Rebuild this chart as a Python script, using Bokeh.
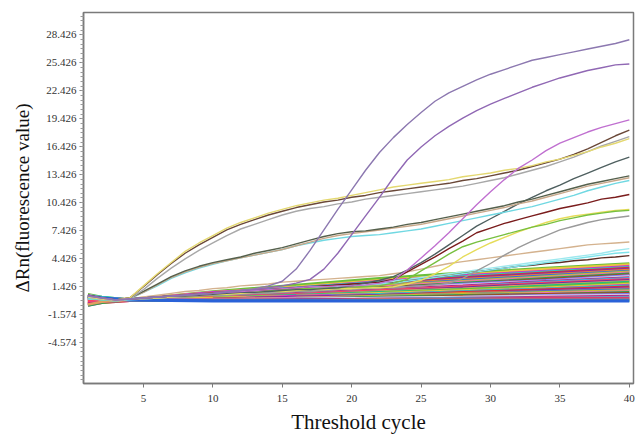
from bokeh.plotting import figure
from bokeh.models import FixedTicker, PrintfTickFormatter, ColumnDataSource
from bokeh.embed import file_html
from bokeh.resources import INLINE

CYCLES = list(range(1, 41))

PURPLE_A = [0.4, 0.2, 0.0, 0.1, 0.2, 0.3, 0.4, 0.5, 0.6, 0.7, 0.9, 1.0, 1.2, 1.5,
            2.0, 3.3, 5.3, 7.5, 9.7, 11.8, 13.9, 15.8, 17.4, 18.8, 20.1, 21.3, 22.2,
            22.9, 23.6, 24.2, 24.7, 25.2, 25.7, 26.0, 26.3, 26.6, 26.9, 27.2, 27.5, 27.9]
PURPLE_B = [0.5, 0.2, 0.0, 0.1, 0.2, 0.3, 0.4, 0.5, 0.6, 0.7, 0.8, 1.0, 1.1, 1.3, 1.5, 1.8,
            2.2, 3.3, 5.0, 7.0, 9.0, 11.0, 13.1, 15.0, 16.4, 17.6, 18.6, 19.5, 20.3, 21.0,
            21.6, 22.2, 22.8, 23.3, 23.8, 24.2, 24.6, 24.9, 25.2, 25.3]
MAGENTA = [0.4, 0.2, 0.0, 0.1, 0.2, 0.3, 0.4, 0.5, 0.6, 0.7, 0.8, 0.9, 1.0, 1.1, 1.2, 1.3,
           1.4, 1.4, 1.5, 1.5, 1.6, 1.8, 2.1, 3.2, 4.5, 5.8, 7.2, 8.7, 10.2, 11.6, 12.9,
           14.1, 15.0, 16.0, 16.8, 17.4, 18.0, 18.5, 18.9, 19.3]
YELLOW = [0.3, 0.1, 0.0, 0.2, 1.5, 2.8, 4.0, 5.2, 6.1, 6.9, 7.7, 8.3, 8.8, 9.3, 9.7, 10.1,
          10.4, 10.7, 10.9, 11.2, 11.5, 11.8, 12.1, 12.3, 12.5, 12.7, 12.9, 13.2, 13.4, 13.6,
          13.9, 14.1, 14.4, 14.8, 15.1, 15.5, 15.9, 16.4, 16.8, 17.3]
BROWN = [0.5, 0.2, 0.0, 0.2, 1.4, 2.7, 3.9, 5.0, 5.9, 6.7, 7.5, 8.1, 8.6, 9.1, 9.5, 9.9,
         10.2, 10.5, 10.7, 11.0, 11.2, 11.5, 11.7, 11.9, 12.1, 12.3, 12.5, 12.8, 13.0, 13.3,
         13.6, 13.9, 14.3, 14.7, 15.1, 15.6, 16.2, 16.9, 17.6, 18.2]
GRAY = [0.3, 0.1, -0.1, 0.1, 1.1, 2.3, 3.4, 4.4, 5.3, 6.1, 6.9, 7.6, 8.1, 8.6, 9.1, 9.5,
        9.8, 10.0, 10.3, 10.5, 10.8, 11.0, 11.2, 11.4, 11.6, 11.8, 12.0, 12.2, 12.5, 12.8,
        13.1, 13.5, 13.9, 14.3, 14.8, 15.3, 15.9, 16.5, 17.0, 17.5]
MID_DARK = [0.4, 0.1, 0.0, 0.2, 0.9, 1.7, 2.5, 3.1, 3.6, 4.0, 4.3, 4.6, 5.0, 5.3, 5.6, 6.0,
            6.4, 6.8, 7.1, 7.3, 7.4, 7.6, 7.8, 8.1, 8.3, 8.6, 8.9, 9.2, 9.5, 9.8,
            10.1, 10.5, 10.8, 11.2, 11.6, 12.0, 12.4, 12.7, 13.0, 13.3]
MID_TAN = [0.3, 0.1, 0.0, 0.2, 0.8, 1.6, 2.4, 3.0, 3.5, 3.9, 4.2, 4.5, 4.8, 5.1, 5.4, 5.8,
           6.2, 6.6, 6.9, 7.1, 7.3, 7.5, 7.7, 7.9, 8.1, 8.4, 8.7, 9.0, 9.3, 9.6,
           9.9, 10.3, 10.6, 11.0, 11.4, 11.8, 12.2, 12.5, 12.8, 13.1]
MID_CYAN = [0.2, 0.0, -0.1, 0.1, 0.8, 1.5, 2.3, 2.9, 3.4, 3.8, 4.2, 4.5, 4.8, 5.1, 5.4, 5.8,
            6.1, 6.4, 6.6, 6.8, 6.9, 7.0, 7.2, 7.4, 7.6, 7.9, 8.2, 8.5, 8.8, 9.1,
            9.4, 9.7, 10.0, 10.4, 10.8, 11.2, 11.7, 12.1, 12.5, 12.8]
LATE_DARK = [0.3, 0.1, 0.0, 0.1, 0.2, 0.3, 0.4, 0.4, 0.5, 0.6, 0.7, 0.8, 0.8, 0.9, 1.0, 1.1,
             1.1, 1.2, 1.3, 1.5, 1.8, 2.1, 2.5, 3.2, 4.0, 4.9, 5.9, 6.9, 7.9, 8.7,
             9.5, 10.3, 11.0, 11.7, 12.3, 13.0, 13.6, 14.2, 14.8, 15.3]
DARK_RED = [0.5, 0.2, 0.0, 0.1, 0.2, 0.3, 0.4, 0.5, 0.6, 0.7, 0.8, 0.9, 1.0, 1.1, 1.2, 1.3,
            1.4, 1.5, 1.6, 1.7, 1.8, 1.9, 2.2, 3.0, 3.8, 4.6, 5.5, 6.3, 7.2, 7.7,
            8.2, 8.6, 9.0, 9.4, 9.8, 10.1, 10.4, 10.8, 11.0, 11.3]
GREEN = [0.2, 0.0, -0.1, 0.1, 0.2, 0.3, 0.4, 0.5, 0.6, 0.7, 0.8, 0.9, 1.0, 1.0, 1.1, 1.2,
         1.2, 1.3, 1.3, 1.4, 1.4, 1.5, 1.8, 2.2, 3.1, 4.0, 4.9, 5.7, 6.2, 6.6,
         7.0, 7.4, 7.8, 8.1, 8.5, 8.8, 9.1, 9.3, 9.5, 9.6]
YELLOW_LATE = [0.3, 0.1, 0.0, 0.1, 0.2, 0.2, 0.3, 0.4, 0.5, 0.6, 0.6, 0.7, 0.8, 0.9, 0.9, 1.0,
               1.1, 1.1, 1.2, 1.2, 1.3, 1.3, 1.4, 1.7, 2.1, 2.8, 3.6, 4.6, 5.4, 6.1,
               6.7, 7.3, 7.8, 8.3, 8.7, 9.0, 9.2, 9.4, 9.6, 9.7]
GRAY_LATE = [0.4, 0.2, 0.0, 0.1, 0.1, 0.2, 0.3, 0.3, 0.4, 0.5, 0.5, 0.6, 0.7, 0.7, 0.8, 0.9,
             0.9, 1.0, 1.1, 1.1, 1.2, 1.3, 1.3, 1.4, 1.5, 1.6, 1.8, 2.3, 3.1, 3.9,
             4.8, 5.6, 6.3, 6.9, 7.5, 7.9, 8.3, 8.6, 8.8, 9.0]
TAN_SLOW = [0.4, 0.1, 0.0, 0.1, 0.3, 0.5, 0.7, 0.9, 1.0, 1.2, 1.3, 1.5, 1.6, 1.7, 1.9, 2.0,
            2.1, 2.2, 2.3, 2.4, 2.5, 2.6, 2.8, 3.0, 3.3, 3.6, 3.9, 4.1, 4.3, 4.5,
            4.7, 4.9, 5.1, 5.3, 5.5, 5.7, 5.9, 6.0, 6.1, 6.2]
CYAN_LATE1 = [0.2, 0.0, -0.1, 0.1, 0.2, 0.3, 0.4, 0.5, 0.5, 0.6, 0.7, 0.8, 0.9, 1.0, 1.1, 1.2,
              1.3, 1.4, 1.5, 1.6, 1.7, 1.8, 2.0, 2.2, 2.4, 2.6, 2.8, 3.0, 3.2, 3.4,
              3.6, 3.8, 4.0, 4.2, 4.4, 4.6, 4.8, 5.0, 5.3, 5.5]
CYAN_LATE2 = [0.1, 0.0, -0.1, 0.0, 0.1, 0.2, 0.3, 0.4, 0.5, 0.6, 0.7, 0.8, 0.8, 0.9, 1.0, 1.1,
              1.2, 1.3, 1.4, 1.5, 1.6, 1.7, 1.8, 2.0, 2.2, 2.4, 2.6, 2.8, 3.0, 3.2,
              3.4, 3.6, 3.8, 4.0, 4.2, 4.4, 4.6, 4.8, 5.0, 5.1]
BROWN_LATE = [0.3, 0.1, 0.0, 0.1, 0.2, 0.3, 0.4, 0.5, 0.5, 0.6, 0.7, 0.8, 0.9, 1.0, 1.1, 1.2,
              1.3, 1.4, 1.5, 1.6, 1.7, 1.8, 1.9, 2.0, 2.2, 2.4, 2.6, 2.8, 3.0, 3.2,
              3.4, 3.6, 3.7, 3.9, 4.0, 4.2, 4.3, 4.5, 4.6, 4.75]

BUNDLE_CYCLES = [1, 2, 4, 10, 16, 22, 28, 34, 40]
BUNDLE = [
    [0.6, 0.3, 0.0, 0.9, 1.6, 2.3, 2.9, 3.4, 3.9],
    [0.5, 0.2, 0.1, 0.8, 1.4, 2.1, 2.7, 3.3, 3.8],
    [0.4, 0.2, 0.0, 0.8, 1.3, 2.0, 2.6, 3.1, 3.6],
    [0.5, 0.3, 0.0, 0.7, 1.3, 1.9, 2.5, 3.0, 3.5],
    [0.3, 0.1, 0.0, 0.7, 1.2, 1.8, 2.4, 2.9, 3.4],
    [0.4, 0.2, -0.1, 0.6, 1.1, 1.7, 2.3, 2.8, 3.3],
    [0.2, 0.1, 0.0, 0.6, 1.1, 1.6, 2.2, 2.7, 3.2],
    [0.3, 0.1, 0.0, 0.5, 1.0, 1.5, 2.1, 2.6, 3.1],
    [0.1, 0.0, 0.0, 0.5, 1.0, 1.5, 2.0, 2.5, 3.0],
    [0.2, 0.1, -0.1, 0.5, 0.9, 1.4, 1.9, 2.4, 2.9],
    [0.0, 0.0, 0.0, 0.4, 0.9, 1.3, 1.8, 2.3, 2.8],
    [0.5, 0.2, 0.0, 0.4, 0.8, 1.3, 1.7, 2.2, 2.7],
    [-0.1, 0.0, 0.0, 0.4, 0.8, 1.2, 1.7, 2.1, 2.6],
    [0.4, 0.2, 0.0, 0.3, 0.7, 1.1, 1.6, 2.0, 2.5],
    [-0.2, -0.1, 0.0, 0.3, 0.7, 1.1, 1.5, 2.0, 2.4],
    [0.3, 0.1, -0.1, 0.3, 0.6, 1.0, 1.4, 1.9, 2.3],
    [-0.3, -0.1, 0.0, 0.3, 0.6, 1.0, 1.4, 1.8, 2.2],
    [0.2, 0.0, 0.0, 0.2, 0.5, 0.9, 1.3, 1.7, 2.1],
    [-0.4, -0.2, 0.0, 0.2, 0.5, 0.9, 1.2, 1.6, 2.0],
    [0.1, 0.0, 0.0, 0.2, 0.5, 0.8, 1.1, 1.5, 1.9],
    [-0.5, -0.2, 0.0, 0.2, 0.4, 0.7, 1.1, 1.4, 1.8],
    [0.0, 0.0, 0.0, 0.2, 0.4, 0.7, 1.0, 1.3, 1.7],
    [-0.6, -0.3, -0.1, 0.1, 0.4, 0.6, 0.9, 1.2, 1.6],
    [0.3, 0.1, 0.0, 0.1, 0.3, 0.6, 0.9, 1.2, 1.5],
    [-0.4, -0.2, 0.0, 0.1, 0.3, 0.5, 0.8, 1.1, 1.4],
    [0.2, 0.1, 0.0, 0.1, 0.3, 0.5, 0.7, 1.0, 1.3],
    [-0.5, -0.3, -0.1, 0.1, 0.2, 0.4, 0.7, 0.9, 1.2],
    [0.4, 0.2, 0.0, 0.0, 0.2, 0.4, 0.6, 0.9, 1.1],
    [-0.3, -0.1, 0.0, 0.0, 0.2, 0.4, 0.6, 0.8, 1.0],
    [0.1, 0.0, 0.0, 0.0, 0.2, 0.3, 0.5, 0.7, 0.9],
    [-0.6, -0.3, 0.0, 0.0, 0.1, 0.3, 0.5, 0.6, 0.8],
    [0.0, 0.0, 0.0, 0.0, 0.1, 0.2, 0.4, 0.6, 0.7],
    [-0.2, -0.1, 0.0, 0.0, 0.1, 0.2, 0.3, 0.5, 0.6],
    [0.5, 0.2, 0.0, 0.0, 0.1, 0.2, 0.3, 0.4, 0.5],
    [-0.4, -0.2, -0.1, 0.0, 0.0, 0.1, 0.2, 0.3, 0.4],
    [0.2, 0.1, 0.0, 0.0, 0.0, 0.1, 0.2, 0.2, 0.3],
    [-0.1, 0.0, 0.0, 0.0, 0.0, 0.1, 0.1, 0.2, 0.2],
    [0.3, 0.1, 0.0, -0.1, 0.0, 0.0, 0.1, 0.1, 0.1],
    [-0.5, -0.2, 0.0, -0.1, -0.1, 0.0, 0.0, 0.0, 0.0],
    [0.4, 0.2, 0.0, -0.1, -0.1, -0.1, -0.1, -0.1, -0.1],
]
BUNDLE_COLORS = ["#6abf3a", "#e8c840", "#d02fd0", "#2ec8c0", "#e03030", "#8a2aa8",
                 "#f08a2a", "#3070e0", "#c0c030", "#f070b0", "#2aa050", "#a04a20",
                 "#8080ff", "#e0e0e0", "#c02080", "#40b0e0", "#ff4060", "#7030a0",
                 "#e0a060", "#20c080"]

Y_TICKS = [-4.574, -1.574, 1.426, 4.426, 7.426, 10.426, 13.426, 16.426, 19.426,
           22.426, 25.426, 28.426]
X_TICKS = [5, 10, 15, 20, 25, 30, 35, 40]

p = figure(width=636, height=436, x_range=(0.68, 40.3), y_range=(-8.97, 30.82),
           output_backend="svg", toolbar_location=None,
           min_border_left=83, min_border_right=3, min_border_top=12, min_border_bottom=53)
p.grid.visible = False
p.outline_line_color = "#7a7a7a"
p.outline_line_width = 1.5
p.background_fill_color = "white"

minor = [round(-9.074 + 0.5 * i, 3) for i in range(80)]
p.yaxis.ticker = FixedTicker(ticks=Y_TICKS, minor_ticks=minor)
p.yaxis.formatter = PrintfTickFormatter(format="%.3f")
p.xaxis.ticker = FixedTicker(ticks=X_TICKS, minor_ticks=[])

for ax in (p.xaxis[0], p.yaxis[0]):
    ax.axis_line_color = "#7a7a7a"
    ax.axis_line_width = 1.5
    ax.major_tick_line_color = "#7a7a7a"
    ax.minor_tick_line_color = "#9a9a9a"
    ax.major_tick_in = 0
    ax.major_tick_out = 4
    ax.minor_tick_in = 0
    ax.minor_tick_out = 3
    ax.major_label_text_font = "Liberation Sans Narrow"
    ax.major_label_text_font_size = "11px"
    ax.major_label_text_color = "#333333"
    ax.axis_label_text_font = "Liberation Serif"
    ax.axis_label_text_font_style = "normal"
    ax.axis_label_text_color = "#111111"

p.xaxis.axis_label = "Threshold cycle"
p.xaxis.axis_label_text_font_size = "21px"
p.xaxis.axis_label_standoff = 5
p.xaxis.major_label_standoff = 7
p.yaxis.axis_label = "\u0394Rn(fluorescence value)"
p.yaxis.axis_label_text_font_size = "19px"
p.yaxis.axis_label_standoff = 10
p.yaxis.major_label_standoff = 3

bsrc = ColumnDataSource(dict(
    xs=[BUNDLE_CYCLES for _ in BUNDLE],
    ys=BUNDLE,
    color=[BUNDLE_COLORS[i % len(BUNDLE_COLORS)] for i in range(len(BUNDLE))],
))
p.multi_line("xs", "ys", source=bsrc, line_color="color", line_width=2.6)
p.line(BUNDLE_CYCLES, BUNDLE[-1], line_color="#2a62d8", line_width=3.2)

curves = [
    (TAN_SLOW, "#d4b28e"), (BROWN_LATE, "#5a2e24"), (CYAN_LATE2, "#7fe3ea"),
    (CYAN_LATE1, "#9ee8ee"), (GRAY_LATE, "#9a9a9a"), (YELLOW_LATE, "#e6dc5a"),
    (GREEN, "#78c040"), (DARK_RED, "#7a1c1c"), (LATE_DARK, "#4f6060"),
    (MID_CYAN, "#70d8e2"), (MID_TAN, "#c8a88a"), (MID_DARK, "#55604c"),
    (GRAY, "#a8a8a8"), (BROWN, "#6a4838"), (YELLOW, "#e4d870"),
    (MAGENTA, "#c070d0"), (PURPLE_B, "#9068b4"), (PURPLE_A, "#8c78b0"),
]
for ys, col in curves:
    p.line(CYCLES, ys, line_color=col, line_width=1.4)

open("out.html", "w").write(file_html(p, INLINE))
